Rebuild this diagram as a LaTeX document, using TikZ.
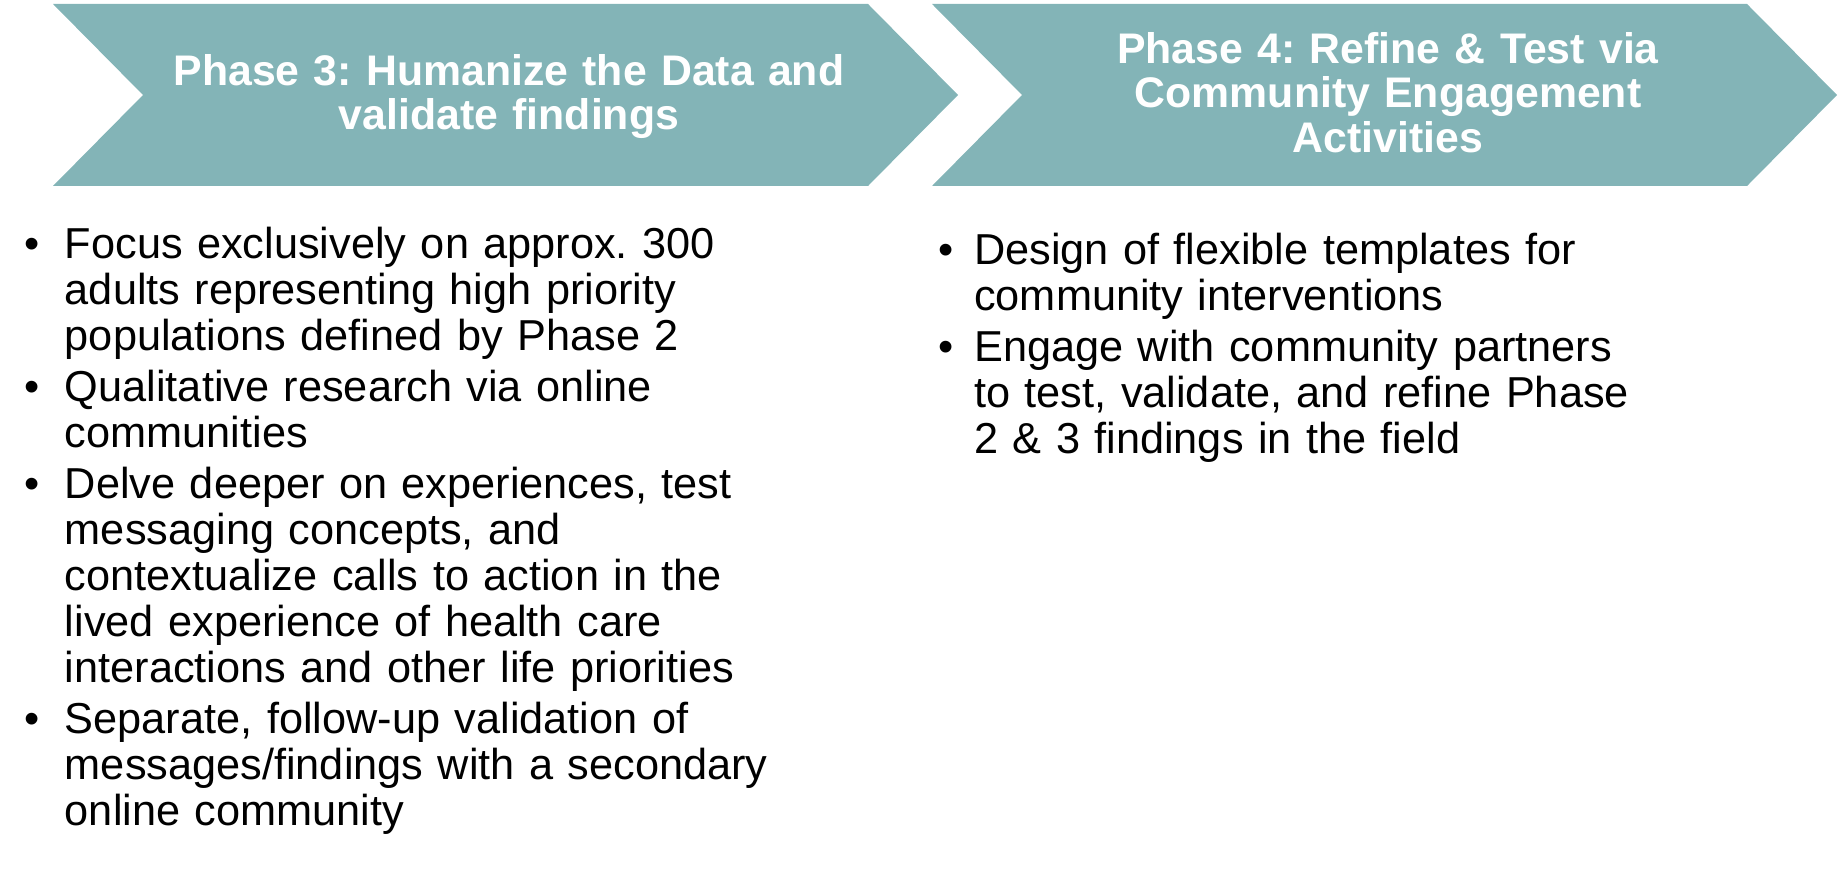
\documentclass[tikz,border=0pt]{standalone}
\usepackage{fontspec}
\setmainfont{Liberation Sans}
\usetikzlibrary{positioning}
\definecolor{phteal}{RGB}{131,180,183}
\frenchspacing
% one bullet point, hanging indent #1
\newcommand{\pitem}[1][40pt]{\par\noindent\hangindent=#1\hangafter=1\makebox[#1][l]{\strut\textbullet}\ignorespaces}

\begin{document}
\begin{tikzpicture}[x=1pt,y=-1pt,
  phtitle/.style={font=\bfseries\fontsize{42.8}{44.5}\selectfont,text=white,
    align=center,text width=760pt,inner sep=0pt,anchor=north,
    execute at begin node=\frenchspacing},
  phpoints/.style={font=\fontsize{43.3}{46}\selectfont,align=left,
    text width=880pt,inner sep=0pt,anchor=north west,
    execute at begin node={\frenchspacing\setlength{\parskip}{5pt}}}]
  \useasboundingbox (0,0) rectangle (1843,874);
  % chevrons
  \fill[phteal] (53,4)--(868,4)--(958,95)--(868,186)--(53,186)--(143,95)--cycle;
  \fill[phteal] (932,4)--(1747,4)--(1837,95)--(1747,186)--(932,186)--(1022,95)--cycle;
  \node[phtitle] (title3) at (509,53.8) {Phase 3: Humanize the Data and\\validate findings};
  \node[phtitle] (title4) at (1388,31.8) {Phase 4: Refine \& Test via\\Community Engagement\\Activities};
  % phase 3 points
  \node[phpoints] (points3) at (24.7,207.2) {%
    \pitem Focus exclusively on approx. 300\newline adults representing high priority\newline populations defined by Phase 2
    \pitem Qualitative research via online\newline communities
    \pitem Delve deeper on experiences, test\newline messaging concepts, and\newline contextualize calls to action in the\newline lived experience of health care\newline interactions and other life priorities
    \pitem Separate, follow-up validation of\newline messages/findings with a secondary\newline online community\par};
  % phase 4 points
  \node[phpoints] (points4) at (938,213.4) {%
    \pitem[36pt] Design of flexible templates for\newline community interventions
    \pitem[36pt] Engage with community partners\newline to test, validate, and refine Phase\newline 2 \& 3 findings in the field\par};
\end{tikzpicture}
\end{document}
